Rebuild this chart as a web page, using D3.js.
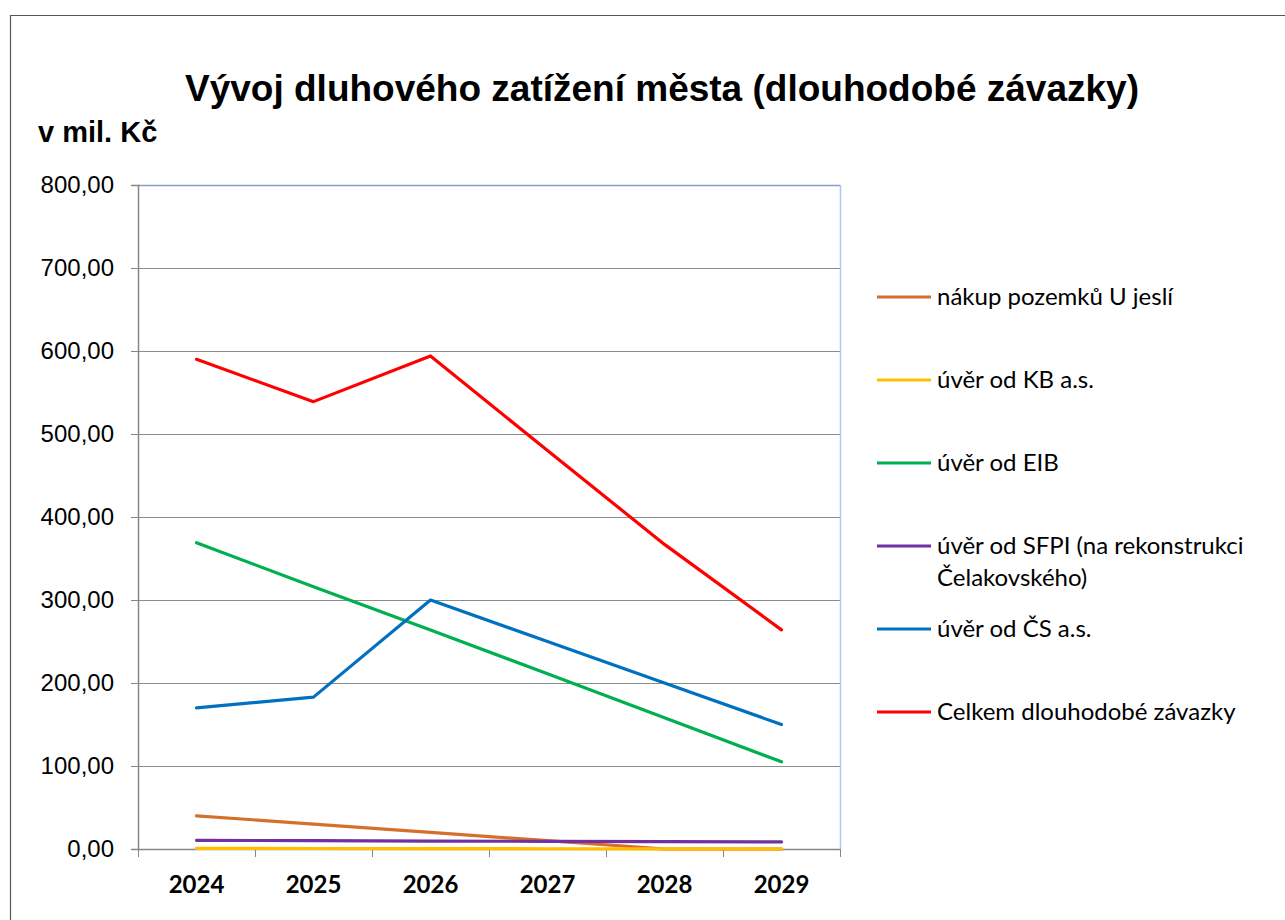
<!DOCTYPE html>
<html>
<head>
<meta charset="utf-8">
<script src="https://cdn.jsdelivr.net/npm/d3@7"></script>
<style>
	body { margin: 0; background: #fff; }
	svg { display: block; }
</style>
</head>
<body>
<div class="line-chart"></div>
<script>
// years on the category axis
const years = ['2024', '2025', '2026', '2027', '2028', '2029'];

// values in mil. Kč
const nakupPozemku = [40, 30, 20, 10, 0, 0];
const uverKB = [0.8, 0.6, 0.4, 0.3, 0.2, 0.1];
const uverEIB = [369, 316, 264, 211, 158, 105];
const uverSFPI = [10.5, 10, 9.6, 9.2, 8.9, 8.5];
const uverCS = [170, 183, 300, 250, 200, 150];
const celkem = [590, 539, 594, 480, 367, 264];

const seriesNames = [
	'nákup pozemků U jeslí',
	'úvěr od KB a.s.',
	'úvěr od EIB',
	'úvěr od SFPI (na rekonstrukci Čelakovského)',
	'úvěr od ČS a.s.',
	'Celkem dlouhodobé závazky'
];
const seriesColors = ['#D4702C', '#FFC000', '#00B050', '#7030A0', '#0070C0', '#FF0000'];
const seriesValues = [nakupPozemku, uverKB, uverEIB, uverSFPI, uverCS, celkem];

const yTicks = [0, 100, 200, 300, 400, 500, 600, 700, 800];

const width = 1285;
const height = 920;
const margin = { top: 185, right: 445, bottom: 71, left: 138 };
const innerWidth = width - margin.left - margin.right;
const innerHeight = height - margin.top - margin.bottom;

const svg = d3
	.select('.line-chart')
	.append('svg')
	.attr('width', width)
	.attr('height', height);

// outer chart frame (runs past the right and bottom edges)
svg.append('path')
	.attr('d', 'M10.5,' + height + 'V15.5H' + width)
	.attr('fill', 'none')
	.attr('stroke', '#595959')
	.attr('stroke-width', 1.2);

svg.append('text')
	.attr('x', 662)
	.attr('y', 101)
	.attr('text-anchor', 'middle')
	.attr('font-family', 'Liberation Sans, Arial, sans-serif')
	.attr('font-weight', 'bold')
	.attr('font-size', 37)
	.text('Vývoj dluhového zatížení města (dlouhodobé závazky)');

svg.append('text')
	.attr('x', 38)
	.attr('y', 142)
	.attr('font-family', 'Liberation Sans, Arial, sans-serif')
	.attr('font-weight', 'bold')
	.attr('font-size', 29)
	.text('v mil. Kč');

const g = svg.append('g')
	.attr('transform', 'translate(' + margin.left + ',' + margin.top + ')');

const x = d3.scaleBand()
	.domain(years)
	.range([0, innerWidth])
	.padding(0);

const y = d3.scaleLinear()
	.domain([0, 800])
	.range([innerHeight, 0]);

const fmt = v => d3.format('.2f')(v).replace('.', ',');

// gridlines
g.append('g')
	.selectAll('line')
	.data(yTicks.slice(1, -1))
	.enter()
	.append('line')
	.attr('x1', 0)
	.attr('x2', innerWidth)
	.attr('y1', d => Math.round(y(d)) + 0.5)
	.attr('y2', d => Math.round(y(d)) + 0.5)
	.attr('stroke', '#8C8C8C')
	.attr('stroke-width', 1);

// plot area top / right border
g.append('line')
	.attr('x1', 0).attr('x2', innerWidth)
	.attr('y1', y(800) + 0.5).attr('y2', y(800) + 0.5)
	.attr('stroke', '#7FA1C8').attr('stroke-width', 1.5);
g.append('line')
	.attr('x1', innerWidth + 0.5).attr('x2', innerWidth + 0.5)
	.attr('y1', y(800)).attr('y2', innerHeight)
	.attr('stroke', '#A9CBEF').attr('stroke-width', 1.5);

// y axis
const yAxis = g.append('g')
	.call(d3.axisLeft(y).tickValues(yTicks).tickFormat(fmt).tickSize(7).tickPadding(17));
yAxis.select('.domain').attr('stroke', '#868686').attr('stroke-width', 1.5);
yAxis.selectAll('.tick line').attr('stroke', '#868686');
yAxis.selectAll('text')
	.attr('font-family', 'Liberation Sans, Arial, sans-serif')
	.attr('font-size', 24)
	.attr('fill', '#000');

// x axis: labels at band centres, ticks on band edges
const xAxis = g.append('g')
	.attr('transform', 'translate(0,' + innerHeight + ')')
	.call(d3.axisBottom(x).tickSize(0).tickPadding(27));
xAxis.select('.domain').attr('stroke', '#868686').attr('stroke-width', 1.5);
xAxis.selectAll('text')
	.attr('font-family', 'Lato, Carlito, sans-serif')
	.attr('font-weight', 'bold')
	.attr('font-size', 24)
	.attr('fill', '#000');

xAxis.selectAll('.edge')
	.data(years.concat(['end']))
	.enter()
	.append('line')
	.attr('class', 'edge')
	.attr('x1', (d, i) => Math.round(i * x.step()) + 0.5)
	.attr('x2', (d, i) => Math.round(i * x.step()) + 0.5)
	.attr('y1', 0)
	.attr('y2', 8)
	.attr('stroke', '#868686');

// series lines
const line = d3.line()
	.x((d, i) => x(years[i]) + x.bandwidth() / 2)
	.y(d => y(d));

g.append('g')
	.selectAll('path')
	.data(seriesValues)
	.enter()
	.append('path')
	.attr('d', d => line(d))
	.attr('fill', 'none')
	.attr('stroke', (d, i) => seriesColors[i])
	.attr('stroke-width', 3.2)
	.attr('stroke-linejoin', 'round')
	.attr('stroke-linecap', 'round');

// legend
const legendTop = [297, 380, 463, 546, 629, 712];
const legend = svg.append('g')
	.selectAll('g')
	.data(seriesNames)
	.enter()
	.append('g')
	.attr('transform', (d, i) => 'translate(877,' + legendTop[i] + ')');

legend.append('line')
	.attr('x1', 0)
	.attr('x2', 54)
	.attr('stroke', (d, i) => seriesColors[i])
	.attr('stroke-width', 3.2);

legend.each(function(d) {
	const parts = d.indexOf('(na ') > 0 ? ['úvěr od SFPI (na rekonstrukci', 'Čelakovského)'] : [d];
	const t = d3.select(this).append('text')
		.attr('x', 60)
		.attr('y', 8)
		.attr('font-family', 'Lato, Carlito, sans-serif')
		.attr('font-size', 24)
		.attr('fill', '#000');
	parts.forEach((p, j) => {
		t.append('tspan').attr('x', 60).attr('dy', j === 0 ? 0 : 32).text(p);
	});
});
</script>
</body>
</html>
